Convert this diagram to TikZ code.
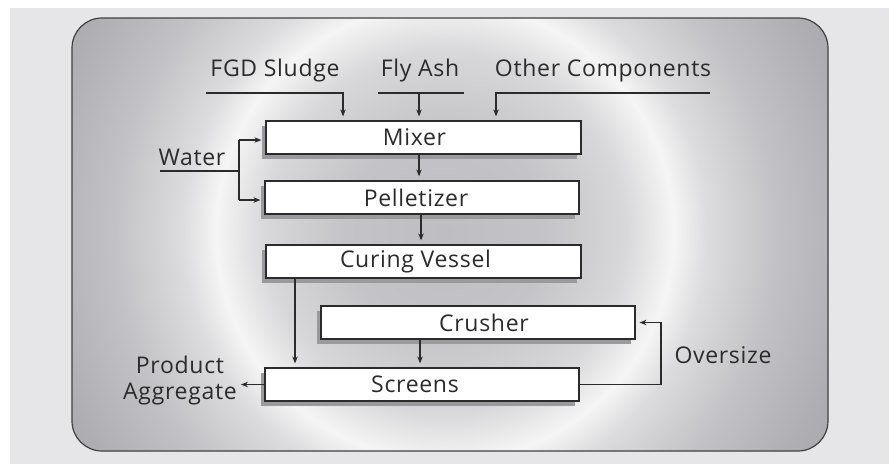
\documentclass[tikz,border=0pt]{standalone}
\usepackage{fontspec}
\setmainfont{Open Sans}[LetterSpace=3]
\usetikzlibrary{arrows.meta,shadows}
\definecolor{panelgray}{HTML}{E6E6E8}
\definecolor{inkc}{HTML}{2B2B2B}
\definecolor{shadowc}{HTML}{9A9A9E}
\definecolor{c0}{HTML}{BEBEC2}
\definecolor{c1}{HTML}{C4C4C8}
\definecolor{c2}{HTML}{D8D8DA}
\definecolor{c3}{HTML}{F5F5F5}
\definecolor{c4}{HTML}{DCDCDE}
\definecolor{c5}{HTML}{C2C2C6}
\definecolor{c6}{HTML}{AEAEB2}
\definecolor{c7}{HTML}{A8A8AC}
\pgfdeclareradialshading{ringshade}{\pgfpoint{0bp}{0bp}}{%
  color(0bp)=(c0);color(100bp)=(c1);color(180bp)=(c2);color(228bp)=(c3);%
  color(262bp)=(c4);color(330bp)=(c5);color(410bp)=(c6);color(460bp)=(c7)}
\tikzset{
  procbox/.style={draw=inkc, line width=1.2pt, fill=white, minimum width=315pt,
    minimum height=33pt, inner sep=0pt, font=\fontsize{23}{26}\selectfont, text=inkc,
    drop shadow={shadow xshift=-4pt, shadow yshift=-5pt, fill=shadowc, opacity=1}},
  lbl/.style={inner sep=0pt, font=\fontsize{23}{26}\selectfont, text=inkc},
  ln/.style={draw=inkc, line width=1.2pt},
  arr/.style={ln, -{Stealth[length=7pt,width=5.5pt]}, shorten >=4pt}
}
\begin{document}
\begin{tikzpicture}[x=1pt,y=-1pt]
\useasboundingbox (0,0) rectangle (889,464);
\fill[white] (0,0) rectangle (889,464);
\fill[panelgray] (10,8) rectangle (889,464);
\begin{scope}
\clip[rounded corners=30pt] (72,18) rectangle (828,451);
\node[inner sep=0pt] (shd) at (445,232) {\pgfuseshading{ringshade}};
\end{scope}
\draw[draw=inkc!90, line width=1.2pt, rounded corners=30pt] (72,18) rectangle (828,451);

% labels
\node[lbl] (fgd) at (275,71) {FGD Sludge};
\node[lbl] (fly) at (420,71) {Fly Ash};
\node[lbl] (oth) at (603,71) {Other Components};
\node[lbl] (water) at (192,157) {Water};
\node[lbl] (over) at (723,355) {Oversize};
\node[lbl, align=center] (prod) at (180,381) {Product\\Aggregate};

% boxes
\node[procbox] (mixer) at (423.5,137.5) {\hspace*{-18pt}Mixer};
\node[procbox, minimum width=314pt] (pell) at (422,197.5) {\hspace*{-12pt}Pelletizer};
\node[procbox] (cure) at (423.5,261.5) {\hspace*{-16pt}Curing Vessel};
\node[procbox, minimum width=314pt] (crush) at (478,322.5) {Crusher\hspace*{-12pt}};
\node[procbox, minimum width=314pt] (scr) at (422,384.5) {\hspace*{-14pt}Screens};

% coordinates
\coordinate (fgdL) at (206,93);
\coordinate (fgdR) at (343,93);
\coordinate (flyL) at (378,93);
\coordinate (flyR) at (464,93);
\coordinate (flyJ) at (419,93);
\coordinate (othL) at (496,93);
\coordinate (othR) at (710,93);
\coordinate (wL) at (160,171);
\coordinate (wJ) at (239,171);
\coordinate (wT) at (239,140);
\coordinate (wB) at (239,200);
\coordinate (xa) at (419,0);
\coordinate (xb) at (421,0);
\coordinate (xc) at (295,0);
\coordinate (xd) at (420,0);
\coordinate (ovx) at (661,0);

% connectors
\draw[arr] (fgdL) -| (fgdR |- mixer.north);
\draw[ln] (flyL) -- (flyR);
\draw[arr] (flyJ) -- (flyJ |- mixer.north);
\draw[arr] (othR) -| (othL |- mixer.north);
\draw[ln] (wL) -- (wJ);
\draw[ln] (wT) -- (wB);
\draw[arr] (wT) -- (wT -| mixer.west);
\draw[arr] (wB) -- (wB -| pell.west);
\draw[arr] (xa |- mixer.south) -- (xa |- pell.north);
\draw[arr] (xb |- pell.south) -- (xb |- cure.north);
\draw[arr] (xc |- cure.south) -- (xc |- scr.north);
\draw[arr] (xd |- crush.south) -- (xd |- scr.north);
\draw[arr] (scr.west) -- (scr.west -| prod.east);
\draw[arr] (scr.east) -| (ovx |- crush.east) -- (crush.east);
\end{tikzpicture}
\end{document}
